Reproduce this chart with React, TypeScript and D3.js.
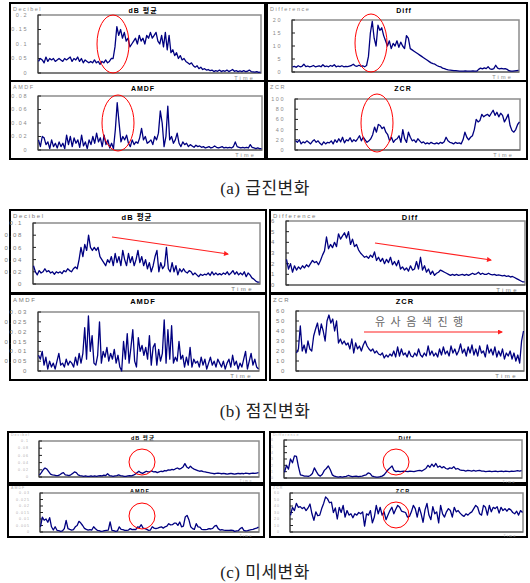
import React from "react";
import * as d3 from "d3";

// ---------- DATA ----------
// (a) 급진변화
const aDb = [
  0.04, 0.05, 0.045, 0.035, 0.055, 0.04, 0.05, 0.045, 0.05, 0.04,
  0.045, 0.05, 0.045, 0.04, 0.05, 0.045, 0.05, 0.055, 0.04, 0.05,
  0.045, 0.055, 0.04, 0.05, 0.035, 0.045, 0.04, 0.035, 0.04, 0.035,
  0.045, 0.035, 0.04, 0.03, 0.04, 0.035, 0.045, 0.035, 0.04, 0.05,
  0.05, 0.09, 0.16, 0.13, 0.15, 0.12, 0.14, 0.11, 0.12, 0.09,
  0.1, 0.11, 0.12, 0.1, 0.13, 0.11, 0.12, 0.1, 0.13, 0.12,
  0.14, 0.12, 0.13, 0.14, 0.11, 0.1, 0.13, 0.09, 0.14, 0.08,
  0.13, 0.07, 0.08, 0.06, 0.07, 0.05, 0.06, 0.045, 0.05, 0.04,
  0.035, 0.03, 0.035, 0.025, 0.02, 0.025, 0.015, 0.02, 0.012, 0.015,
  0.01, 0.012, 0.008, 0.01, 0.005, 0.008, 0.006, 0.01, 0.005, 0.008,
  0.006, 0.01, 0.005, 0.008, 0.012, 0.006, 0.008, 0.005, 0.007, 0.005,
  0.008, 0.005, 0.006, 0.01, 0.005, 0.004, 0.003, 0.005, 0.002, 0.003,
];
const aDiff = [
  2, 2.2, 1.8, 2.4, 2, 2.2, 3, 2.1, 2.3, 2,
  2.2, 2.5, 2, 2.2, 2.4, 2, 2.8, 2.1, 2.3, 2,
  2.5, 2.2, 2.8, 2, 2.3, 2.1, 2.4, 2, 2.2, 2.1,
  2.3, 2.5, 3, 2.4, 2.2, 2.6, 2.2, 2.4, 2, 2.5,
  6, 15, 19.5, 13, 10, 18, 16, 17, 14, 12,
  10, 12, 9, 11, 10, 12, 9.5, 11.5, 10, 9,
  14, 13, 9, 8.5, 8, 7.5, 7, 6.5, 6, 5.5,
  5, 4.5, 4, 3.5, 3.2, 3, 2.5, 2.2, 2, 1.5,
  1.3, 1, 0.8, 0.7, 0.6, 0.5, 0.5, 0.4, 0.3, 0.3,
  0.3, 0.4, 0.3, 0.3, 0.3, 0.4, 0.3, 0.3, 1, 1.5,
  1.2, 1.6, 1.3, 2, 1.2, 1, 1.3, 2.6, 1.5, 1.2,
  1.4, 1.2, 1.3, 1, 0.5, 0.3, 0.3, 0.4, 0.5, 0.6,
];
const aAmdf = [
  0.015, 0.005, 0.02, 0.018, 0.008, 0.012, 0.002, 0.015, 0.005, 0.01,
  0.003, 0.012, 0.005, 0.01, 0.002, 0.022, 0.008, 0.02, 0.005, 0.018,
  0.01, 0.015, 0.004, 0.022, 0.006, 0.012, 0.002, 0.015, 0.008, 0.02,
  0.01, 0.025, 0.012, 0.018, 0.005, 0.022, 0.008, 0.015, 0.003, 0.01,
  0.002, 0.03, 0.07, 0.04, 0.012, 0.02, 0.015, 0.022, 0.01, 0.005,
  0.015, 0.008, 0.012, 0.01, 0.018, 0.032, 0.015, 0.02, 0.01, 0.012,
  0.015, 0.008, 0.02, 0.015, 0.025, 0.058, 0.04, 0.005, 0.02, 0.065,
  0.015, 0.02, 0.01, 0.015, 0.025, 0.01, 0.005, 0.012, 0.008, 0.01,
  0.005, 0.008, 0.006, 0.004, 0.007, 0.005, 0.006, 0.004, 0.005, 0.003,
  0.004, 0.005, 0.003, 0.004, 0.006, 0.004, 0.003, 0.004, 0.005, 0.003,
  0.004, 0.003, 0.004, 0.003, 0.005, 0.012, 0.005, 0.004, 0.003, 0.004,
  0.003, 0.004, 0.003, 0.008, 0.004, 0.003, 0.002, 0.003, 0.002, 0.002,
];
const aZcr = [
  18, 15, 20, 12, 16, 14, 18, 15, 12, 17,
  20, 15, 18, 13, 10, 16, 12, 15, 14, 18,
  12, 20, 15, 22, 16, 25, 14, 20, 18, 24,
  16, 20, 17, 22, 28, 18, 25, 20, 15, 18,
  22, 30, 45, 35, 50, 48, 42, 45, 35, 30,
  18, 25, 15, 20, 22, 28, 15, 40, 22, 15,
  35, 25, 18, 20, 15, 22, 18, 14, 16, 12,
  14, 12, 15, 13, 12, 14, 12, 15, 13, 16,
  25, 18, 15, 14, 12, 15, 13, 14, 12, 20,
  35, 25, 20, 25, 28, 40, 60, 55, 58, 70,
  65, 68, 70, 66, 72, 78, 68, 74, 65, 72,
  68, 55, 62, 70, 48, 38, 35, 40, 50, 55,
];

// (b) 점진변화
const bDb = [
  0.03, 0.02, 0.015, 0.022, 0.018, 0.02, 0.025, 0.02, 0.022, 0.018,
  0.02, 0.016, 0.02, 0.018, 0.02, 0.017, 0.022, 0.02, 0.025, 0.022,
  0.02, 0.025, 0.028, 0.025, 0.04, 0.06, 0.045, 0.065, 0.055, 0.08,
  0.06, 0.055, 0.06, 0.055, 0.06, 0.045, 0.04, 0.035, 0.03, 0.04,
  0.035, 0.045, 0.03, 0.05, 0.035, 0.045, 0.03, 0.055, 0.04, 0.03,
  0.05, 0.035, 0.045, 0.03, 0.04, 0.055, 0.035, 0.045, 0.03, 0.04,
  0.025, 0.035, 0.02, 0.03, 0.045, 0.055, 0.02, 0.035, 0.025, 0.03,
  0.06, 0.025, 0.02, 0.035, 0.02, 0.03, 0.015, 0.025, 0.02, 0.025,
  0.02, 0.018, 0.022, 0.02, 0.015, 0.018, 0.015, 0.012, 0.016, 0.014,
  0.016, 0.015, 0.018, 0.014, 0.02, 0.015, 0.018, 0.015, 0.017, 0.015,
  0.018, 0.016, 0.02, 0.015, 0.018, 0.022, 0.016, 0.02, 0.015, 0.018,
  0.015, 0.02, 0.012, 0.018, 0.015, 0.01, 0.008, 0.005, 0.003, 0.003,
];
const bDiff = [
  2.4, 1.5, 2, 1.2, 1.8, 1.4, 1.7, 1.5, 1.8, 1.6,
  1.9, 1.7, 2, 2.3, 2.1, 2.2, 1.9, 2.3, 2.8, 3.2,
  4.5, 3.4, 3.8, 3.5, 4.0, 3.6, 4.8, 4.3, 4.6, 4.9,
  4.4, 5.0, 3.8, 4.3, 3.6, 3.8, 3.3, 3.0, 2.8, 2.6,
  2.7, 2.5, 2.8, 2.6, 3.1, 2.3, 2.6, 2.2, 2.5, 2.0,
  2.4, 2.1, 2.6, 1.9, 2.2, 1.8, 2.3, 1.5, 1.7, 1.4,
  1.6, 1.3, 1.8, 1.4, 1.5, 2.2, 1.5, 2.6, 1.4, 1.8,
  1.2, 1.5, 1.0, 1.3, 0.9, 1.1, 1.2, 1.4, 1.3, 1.2,
  1.1, 1.0, 0.9, 1.0, 0.9, 1.0, 0.9, 0.95, 1.0, 0.9,
  1.0, 0.9, 1.0, 1.1, 1.0, 1.05, 1.2, 1.0, 1.1, 1.0,
  1.0, 1.1, 1.0, 0.95, 1.0, 0.9, 0.95, 0.9, 0.85, 0.9,
  0.8, 0.85, 0.75, 0.8, 0.7, 0.6, 0.5, 0.4, 0.3, 0.3,
];
const bAmdf = [
  0.008, 0.006, 0.01, 0.003, 0.007, 0.001, 0.005, 0.002, 0.004, 0.001,
  0.005, 0.009, 0.003, 0.004, 0.002, 0.006, 0.003, 0.005, 0.004, 0.002,
  0.007, 0.003, 0.009, 0.004, 0.009, 0.022, 0.006, 0.028, 0.01, 0.018,
  0.004, 0.003, 0.008, 0.025, 0.004, 0.01, 0.007, 0.012, 0.005, 0.009,
  0.006, 0.011, 0.004, 0.008, 0.002, 0.0, 0.015, 0.006, 0.019, 0.004,
  0.012, 0.021, 0.005, 0.002, 0.017, 0.01, 0.013, 0.008, 0.012, 0.006,
  0.018, 0.003, 0.012, 0.014, 0.003, 0.011, 0.005, 0.009, 0.026, 0.004,
  0.021, 0.006, 0.023, 0.004, 0.007, 0.005, 0.015, 0.006, 0.008, 0.002,
  0.007, 0.003, 0.012, 0.002, 0.006, 0.004, 0.005, 0.002, 0.007, 0.003,
  0.006, 0.001, 0.004, 0.007, 0.003, 0.005, 0.002, 0.006, 0.004, 0.002,
  0.005, 0.001, 0.004, 0.006, 0.002, 0.008, 0.003, 0.005, 0.001, 0.004,
  0.002, 0.006, 0.01, 0.001, 0.005, 0.009, 0.003, 0.006, 0.002, 0.001,
];
const bZcr = [
  18, 22, 45, 20, 26, 18, 30, 22, 20, 35,
  42, 48, 36, 47, 40, 30, 50, 56, 48, 52,
  40, 50, 28, 32, 27, 30, 26, 28, 22, 32,
  18, 28, 22, 25, 20, 26, 30, 25, 22, 20,
  22, 18, 20, 17, 16, 18, 13, 16, 14, 17,
  15, 20, 14, 24, 15, 22, 16, 18, 14, 20,
  15, 14, 18, 15, 22, 16, 14, 18, 15, 25,
  16, 20, 15, 18, 14, 22, 16, 24, 17, 20,
  15, 25, 18, 22, 16, 20, 27, 18, 22, 15,
  24, 18, 26, 16, 22, 15, 25, 18, 20, 14,
  26, 18, 22, 16, 24, 14, 20, 15, 22, 12,
  18, 15, 20, 12, 18, 10, 16, 8, 30, 40,
];

// (c) 미세변화
const cDb = [
  0.005, 0.012, 0.02, 0.025, 0.022, 0.015, 0.008, 0.006, 0.005, 0.004,
  0.004, 0.006, 0.01, 0.012, 0.006, 0.005, 0.004, 0.006, 0.01, 0.014,
  0.012, 0.006, 0.004, 0.003, 0.002, 0.003, 0.002, 0.002, 0.003, 0.002,
  0.003, 0.002, 0.003, 0.004, 0.003, 0.005, 0.004, 0.009, 0.004, 0.003,
  0.002, 0.003, 0.004, 0.006, 0.004, 0.003, 0.002, 0.002, 0.003, 0.004,
  0.003, 0.005, 0.008, 0.012, 0.016, 0.012, 0.01, 0.013, 0.016, 0.014,
  0.015, 0.017, 0.014, 0.015, 0.012, 0.014, 0.016, 0.015, 0.018, 0.017,
  0.02, 0.019, 0.021, 0.02, 0.023, 0.025, 0.022, 0.024, 0.028, 0.037,
  0.028, 0.024, 0.03, 0.025, 0.022, 0.02, 0.018, 0.016, 0.017, 0.015,
  0.014, 0.013, 0.012, 0.011, 0.01, 0.009, 0.01, 0.011, 0.01, 0.009,
  0.01, 0.009, 0.008, 0.009, 0.01, 0.009, 0.008, 0.009, 0.01, 0.009,
  0.01, 0.009, 0.011, 0.01, 0.009, 0.01, 0.011, 0.01, 0.011, 0.012,
];
const cDiff = [
  0.9, 2.0, 1.4, 3.0, 2.4, 3.5, 3.4, 1.8, 0.5, 0.4,
  0.3, 0.3, 0.25, 0.4, 0.7, 1.6, 1.0, 0.5, 0.3, 0.6,
  1.2, 1.5, 1.9, 1.3, 0.5, 0.3, 0.2, 0.15, 0.2, 0.15,
  0.2, 0.25, 0.4, 0.3, 0.2, 0.25, 0.3, 0.2, 0.25, 0.3,
  0.4, 0.5, 0.8, 0.7, 0.3, 0.2, 0.15, 0.15, 0.2, 0.3,
  0.5, 0.9, 1.3, 1.6, 1.9, 1.2, 1.0, 1.1, 1.0, 1.05,
  1.1, 1.05, 1.0, 1.1, 1.05, 1.0, 1.1, 1.15, 1.2, 1.1,
  1.3, 1.5, 2.0, 1.7, 2.2, 1.8, 2.3, 1.7, 1.9, 1.6,
  1.8, 1.5, 1.4, 1.6, 1.5, 1.8, 1.4, 1.5, 1.3, 1.2,
  1.2, 1.1, 1.2, 1.15, 1.1, 1.2, 1.1, 1.15, 1.2, 1.1,
  1.1, 1.0, 1.05, 1.1, 1.0, 1.05, 1.1, 1.0, 1.05, 1.1,
  1.0, 1.1, 1.05, 1.0, 1.1, 1.05, 1.1, 1.15, 1.1, 1.15,
];
const cAmdf = [
  0.004, 0.0115, 0.009, 0.01, 0.0075, 0.011, 0.004, 0.0015, 0.004, 0.0013,
  0.001, 0.0005, 0.0008, 0.0026, 0.009, 0.0026, 0.002, 0.0015, 0.0018, 0.004,
  0.005, 0.0082, 0.0069, 0.005, 0.0028, 0.002, 0.0015, 0.0018, 0.0015, 0.004,
  0.0025, 0.0013, 0.001, 0.0005, 0.0006, 0.001, 0.0013, 0.0015, 0.0077, 0.0013,
  0.001, 0.0005, 0.0008, 0.004, 0.002, 0.0018, 0.0013, 0.0012, 0.0015, 0.0026,
  0.0018, 0.002, 0.0018, 0.004, 0.0035, 0.0056, 0.003, 0.0026, 0.002, 0.0013,
  0.0015, 0.004, 0.003, 0.0026, 0.003, 0.0035, 0.004, 0.003, 0.004, 0.0045,
  0.0064, 0.0055, 0.0056, 0.0068, 0.0069, 0.0051, 0.0077, 0.004, 0.0045, 0.0115,
  0.0128, 0.0095, 0.004, 0.0026, 0.002, 0.0064, 0.004, 0.0038, 0.002, 0.0018,
  0.0018, 0.002, 0.0026, 0.0023, 0.0028, 0.0045, 0.0051, 0.0026, 0.0015, 0.0018,
  0.0015, 0.0013, 0.0012, 0.0013, 0.0015, 0.0013, 0.0005, 0.0008, 0.001, 0.0026,
  0.0035, 0.0013, 0.0008, 0.001, 0.0015, 0.0018, 0.002, 0.0026, 0.003, 0.0038,
];
const cZcr = [
  25.6, 38, 33, 44, 38, 39, 36, 38, 33, 37,
  43, 28, 18, 31, 25, 26, 36, 44, 54, 51,
  45, 46, 30, 37, 20, 38, 30, 41, 23, 33,
  26, 28, 22, 28, 26, 30, 28, 31, 9, 28,
  26, 33, 14, 23, 41, 28, 38, 26, 31, 19,
  26, 33, 38, 28, 35, 41, 38, 32, 31, 30,
  23, 24, 31, 41, 36, 23, 38, 28, 15, 34,
  44, 26, 19, 39, 28, 31, 14, 41, 28, 23,
  31, 36, 33, 23, 38, 31, 33, 29, 26, 24,
  28, 26, 29, 31, 36, 41, 38, 28, 26, 41,
  38, 26, 41, 31, 38, 36, 39, 29, 38, 33,
  36, 32, 36, 34, 30, 28, 32, 26, 33, 30,
];

// tick values & labels
const ticksDbA = [0, 0.05, 0.1, 0.15, 0.2];
const ticksDiffA = [0, 5, 10, 15, 20];
const ticksAmdfA = [0, 0.02, 0.04, 0.06, 0.08];
const ticksZcrA = [0, 20, 40, 60, 80, 100];
const ticksDbB = [0, 0.02, 0.04, 0.06, 0.08, 0.1];
const ticksDiffB = [0, 1, 2, 3, 4, 5, 6];
const ticksAmdfB = [0, 0.005, 0.01, 0.015, 0.02, 0.025, 0.03];
const ticksZcrB = [0, 10, 20, 30, 40, 50, 60];
const captions = ["(a) 급진변화", "(b) 점진변화", "(c) 미세변화"];
const yLabels = ["Decibel", "Difference", "AMDF", "ZCR"];
const titles = ["dB 평균", "Diff", "AMDF", "ZCR"];
const noteText = "유사음색진행";

// ---------- LAYOUT ----------
type Ann =
  | { kind: "ellipse"; cx: number; cy: number; rx: number; ry: number }
  | { kind: "arrow"; x1: number; y1: number; x2: number; y2: number };

interface Cfg {
  box: [number, number, number, number];
  plot: [number, number, number, number];
  data: number[];
  yMax: number;
  ticks: number[];
  ylabel: string;
  title: string;
  titleX: number;
  fs: number; // axis font size
  tfs: number; // title font size
  labelColor: string;
  labelDy: number; // ylabel baseline offset from box top
  ann?: Ann[];
}

const fmt = (v: number) => String(+v.toFixed(4));

const panels: Cfg[] = [
  // (a)
  { box: [10, 3, 265, 81], plot: [38, 15, 261, 73], data: aDb, yMax: 0.2, ticks: ticksDbA, ylabel: yLabels[0], title: titles[0], titleX: 143, fs: 5.5, tfs: 7, labelColor: "#8a8a8a", labelDy: 7.5,
    ann: [{ kind: "ellipse", cx: 113, cy: 44, rx: 16, ry: 29 }] },
  { box: [267, 3, 527, 81], plot: [292, 20, 519, 72], data: aDiff, yMax: 20, ticks: ticksDiffA, ylabel: yLabels[1], title: titles[1], titleX: 404, fs: 5.5, tfs: 7, labelColor: "#8a8a8a", labelDy: 7.5,
    ann: [{ kind: "ellipse", cx: 371, cy: 43, rx: 16, ry: 29 }] },
  { box: [10, 81, 265, 159], plot: [38, 96, 262, 150], data: aAmdf, yMax: 0.08, ticks: ticksAmdfA, ylabel: yLabels[2], title: titles[2], titleX: 143, fs: 5.5, tfs: 7, labelColor: "#8a8a8a", labelDy: 7.5,
    ann: [{ kind: "ellipse", cx: 118, cy: 123, rx: 16, ry: 28 }] },
  { box: [267, 81, 527, 159], plot: [295, 99, 520, 150], data: aZcr, yMax: 100, ticks: ticksZcrA, ylabel: yLabels[3], title: titles[3], titleX: 403, fs: 5.5, tfs: 7, labelColor: "#8a8a8a", labelDy: 7.5,
    ann: [{ kind: "ellipse", cx: 377, cy: 123, rx: 16, ry: 29 }] },
  // (b)
  { box: [10, 210, 266, 293], plot: [33, 223, 260, 284], data: bDb, yMax: 0.1, ticks: ticksDbB, ylabel: yLabels[0], title: titles[0], titleX: 137, fs: 6, tfs: 7.5, labelColor: "#7a7a7a", labelDy: 8,
    ann: [{ kind: "arrow", x1: 112, y1: 237, x2: 228, y2: 254 }] },
  { box: [270, 210, 527, 293], plot: [286, 221, 525, 285], data: bDiff, yMax: 6, ticks: ticksDiffB, ylabel: yLabels[1], title: titles[1], titleX: 410, fs: 6, tfs: 7.5, labelColor: "#7a7a7a", labelDy: 8,
    ann: [{ kind: "arrow", x1: 375, y1: 243, x2: 491, y2: 260 }] },
  { box: [10, 294, 266, 380], plot: [38, 312, 259, 371], data: bAmdf, yMax: 0.03, ticks: ticksAmdfB, ylabel: yLabels[2], title: titles[2], titleX: 143, fs: 6, tfs: 7.5, labelColor: "#7a7a7a", labelDy: 8 },
  { box: [270, 294, 527, 380], plot: [296, 311, 524, 371], data: bZcr, yMax: 60, ticks: ticksZcrB, ylabel: yLabels[3], title: titles[3], titleX: 405, fs: 6, tfs: 7.5, labelColor: "#7a7a7a", labelDy: 8,
    ann: [{ kind: "arrow", x1: 364, y1: 332, x2: 502, y2: 332 }] },
  // (c)
  { box: [8, 432, 264, 483], plot: [39, 441, 259, 477], data: cDb, yMax: 0.1, ticks: ticksDbB, ylabel: yLabels[0], title: titles[0], titleX: 143, fs: 3.6, tfs: 5.5, labelColor: "#b0b0b0", labelDy: 4.2,
    ann: [{ kind: "ellipse", cx: 142, cy: 462, rx: 13, ry: 13 }] },
  { box: [270, 432, 527, 483], plot: [284, 440, 522, 478], data: cDiff, yMax: 6, ticks: ticksDiffB, ylabel: yLabels[1], title: titles[1], titleX: 405, fs: 3.6, tfs: 5.5, labelColor: "#b0b0b0", labelDy: 4.2,
    ann: [{ kind: "ellipse", cx: 396, cy: 462, rx: 13, ry: 13 }] },
  { box: [8, 485, 264, 537], plot: [40, 493, 259, 532], data: cAmdf, yMax: 0.03, ticks: ticksAmdfB, ylabel: yLabels[2], title: titles[2], titleX: 140, fs: 3.6, tfs: 5.5, labelColor: "#b0b0b0", labelDy: 4.2,
    ann: [{ kind: "ellipse", cx: 142, cy: 516, rx: 13, ry: 13 }] },
  { box: [270, 485, 527, 537], plot: [290, 493, 523, 532], data: cZcr, yMax: 60, ticks: ticksZcrB, ylabel: yLabels[3], title: titles[3], titleX: 403, fs: 3.6, tfs: 5.5, labelColor: "#b0b0b0", labelDy: 4.2,
    ann: [{ kind: "ellipse", cx: 396, cy: 515, rx: 13, ry: 13 }] },
];

const captionY = [194, 417, 578];

const SANS = "'Liberation Sans', Arial, 'Noto Sans CJK KR', sans-serif";

function Panel({ cfg, idx }: { cfg: Cfg; idx: number }) {
  const [bx0, by0, bx1, by1] = cfg.box;
  const [l, t, r, b] = cfg.plot;
  const x = d3.scaleLinear().domain([0, cfg.data.length - 1]).range([l + 0.5, r - 0.5]);
  const y = d3.scaleLinear().domain([0, cfg.yMax]).range([b, t]);
  const line = d3
    .line<number>()
    .x((_, i) => x(i))
    .y((d) => y(d));
  const ls = cfg.fs * 0.28;
  return (
    <g>
      <rect x={bx0} y={by0} width={bx1 - bx0} height={by1 - by0} fill="#fff" stroke="#000" strokeWidth={2} />
      <text x={bx0 + 3} y={by0 + cfg.labelDy} fontSize={cfg.fs} fill={cfg.labelColor} fontFamily={SANS} letterSpacing={ls}>
        {cfg.ylabel}
      </text>
      <text x={cfg.titleX} y={by0 + cfg.tfs + 2.5} fontSize={cfg.tfs} fontWeight="bold" fill="#000" textAnchor="middle" fontFamily={SANS} letterSpacing={1}>
        {cfg.title}
      </text>
      <rect x={l} y={t} width={r - l} height={b - t} fill="none" stroke="#8c8c8c" strokeWidth={1.5} />
      <line x1={l} x2={l} y1={t} y2={b} stroke="#333" strokeWidth={1} />
      <line x1={l} x2={r} y1={b} y2={b} stroke="#555" strokeWidth={1} />
      {cfg.ticks.map((v, i) => (
        <g key={i}>
          <line x1={l} x2={l + 3} y1={y(v)} y2={y(v)} stroke="#222" strokeWidth={1} />
          <text x={l - 10} y={y(v) + cfg.fs * 0.35} fontSize={cfg.fs} fill={cfg.labelColor} textAnchor="end" fontFamily={SANS} letterSpacing={ls}>
            {fmt(v)}
          </text>
        </g>
      ))}
      <text x={r - 6} y={b + cfg.fs + 1} fontSize={cfg.fs} fill={cfg.labelColor} textAnchor="end" fontFamily={SANS} letterSpacing={cfg.fs * 0.4}>
        Time
      </text>
      <path d={line(cfg.data) || ""} fill="none" stroke="#000080" strokeWidth={1.3} strokeLinejoin="round" />
      {(cfg.ann || []).map((a, i) =>
        a.kind === "ellipse" ? (
          <ellipse key={i} cx={a.cx} cy={a.cy} rx={a.rx} ry={a.ry} fill="none" stroke="#ff0000" strokeWidth={1} />
        ) : (
          <line key={i} x1={a.x1} y1={a.y1} x2={a.x2} y2={a.y2} stroke="#ff2020" strokeWidth={1.2} markerEnd="url(#arrow)" />
        )
      )}
      {idx === 7 && (
        <text x={375} y={326} fontSize={11} fill="#666" fontFamily="'Noto Sans CJK KR', sans-serif" letterSpacing={5.5}>
          {noteText}
        </text>
      )}
    </g>
  );
}

export default function App() {
  return (
    <svg width={530} height={583} style={{ position: "absolute", left: 0, top: 0, background: "#fff" }}>
      <defs>
        <marker id="arrow" viewBox="0 0 10 10" refX="8" refY="5" markerWidth="6" markerHeight="5" orient="auto" markerUnits="userSpaceOnUse">
          <path d="M0,0 L10,5 L0,10 z" fill="#ff2020" />
        </marker>
      </defs>
      <rect x={0} y={0} width={530} height={583} fill="#fff" />
      {panels.map((p, i) => (
        <Panel key={i} cfg={p} idx={i} />
      ))}
      {captions.map((c, i) => (
        <text key={i} x={265} y={captionY[i]} fontSize={17} textAnchor="middle" fill="#222" letterSpacing={0.5} fontFamily="'Liberation Serif', 'DejaVu Serif', 'Noto Sans CJK KR', serif">
          {c}
        </text>
      ))}
    </svg>
  );
}
